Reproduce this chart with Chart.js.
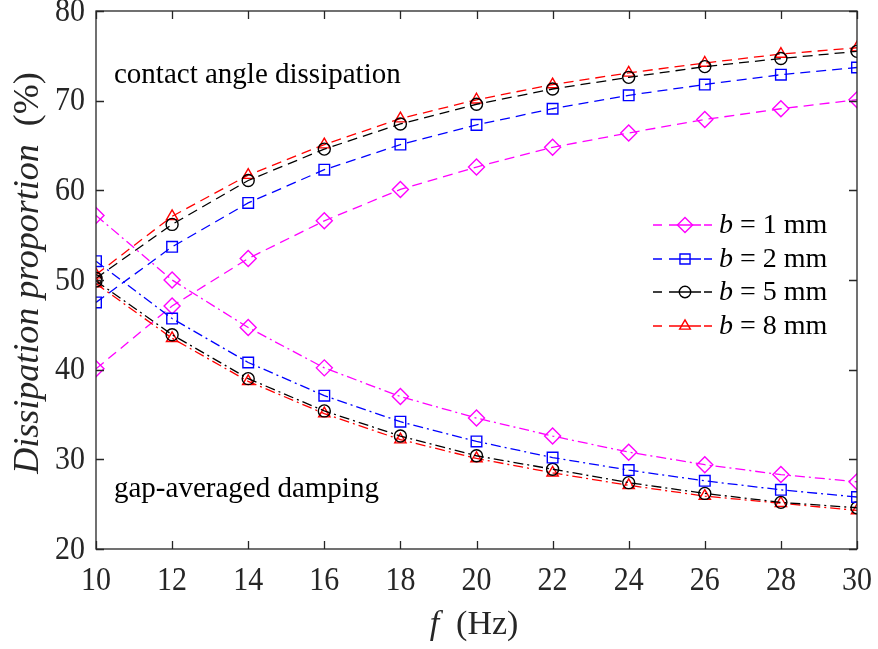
<!DOCTYPE html>
<html>
<head>
<meta charset="utf-8">
<script src="https://cdn.jsdelivr.net/npm/chart.js@4.4.1/dist/chart.umd.min.js"></script>
<style>
  html, body { margin: 0; padding: 0; background: #fff; }
  #wrap { width: 878px; height: 649px; position: relative; }
</style>
</head>
<body>
<div id="wrap"><canvas id="c" width="878" height="649"></canvas></div>
<script>
// Frequency f (Hz)
const freq = [10, 12, 14, 16, 18, 20, 22, 24, 26, 28, 30];

// Contact angle dissipation (%) for each gap width b
const contactB1 = [40.1, 47.1, 52.4, 56.6, 60.1, 62.6, 64.8, 66.4, 67.9, 69.1, 70.1];
const contactB2 = [47.5, 53.7, 58.6, 62.3, 65.1, 67.3, 69.1, 70.6, 71.8, 72.9, 73.7];
const contactB5 = [50.2, 56.2, 61.1, 64.6, 67.4, 69.6, 71.3, 72.6, 73.8, 74.7, 75.5];
const contactB8 = [50.6, 57.1, 61.7, 65.1, 68.0, 70.1, 71.8, 73.1, 74.2, 75.2, 75.9];

// Gap-averaged damping (%) for each gap width b
const gapB1 = [57.2, 50.0, 44.7, 40.2, 37.0, 34.6, 32.6, 30.8, 29.4, 28.3, 27.5];
const gapB2 = [52.1, 45.7, 40.8, 37.1, 34.2, 32.0, 30.2, 28.8, 27.6, 26.6, 25.8];
const gapB5 = [49.9, 43.9, 39.0, 35.4, 32.6, 30.4, 28.9, 27.4, 26.2, 25.2, 24.6];
const gapB8 = [49.6, 43.5, 38.7, 35.1, 32.2, 30.1, 28.5, 27.1, 25.9, 25.1, 24.3];

// Axis ticks
const xTicks = [10, 12, 14, 16, 18, 20, 22, 24, 26, 28, 30];
const yTicks = [20, 30, 40, 50, 60, 70, 80];

// Legend labels
const legendValues = ['1', '2', '5', '8'];

const SERIF = "'Liberation Serif', 'Times New Roman', serif";
const AXIS_COLOR = '#262626';
const DASH = [10, 6];
const DASH_DOT = [10, 4, 2, 4];

const styles = [
  { color: '#FF00FF', point: 'rectRot', r: 8 },
  { color: '#0000FF', point: 'rect', r: 7.5 },
  { color: '#000000', point: 'circle', r: 6 },
  { color: '#FF0000', point: 'triangle', r: 6.5 }
];

function toXY(ys) { return freq.map((x, i) => ({ x: x, y: ys[i] })); }

function makeSet(label, ys, st, dash) {
  return {
    label: label,
    data: toXY(ys),
    borderColor: st.color,
    backgroundColor: 'rgba(0,0,0,0)',
    borderWidth: 1.3,
    borderDash: dash,
    pointStyle: st.point,
    pointRadius: st.r,
    pointHoverRadius: st.r,
    pointBorderColor: st.color,
    pointBackgroundColor: 'rgba(0,0,0,0)',
    pointBorderWidth: 1.4,
    tension: 0,
    fill: false
  };
}

const contactSets = [contactB1, contactB2, contactB5, contactB8];
const gapSets = [gapB1, gapB2, gapB5, gapB8];
const datasets = [];
gapSets.forEach((ys, i) => datasets.push(makeSet('gap b=' + legendValues[i], ys, styles[i], DASH_DOT)));
contactSets.forEach((ys, i) => datasets.push(makeSet('contact b=' + legendValues[i], ys, styles[i], DASH)));

// Text drawn slightly taller than wide, like the tick numerals
function tallText(ctx, text, x, y, align, stretch) {
  ctx.save();
  ctx.translate(x, y);
  ctx.scale(1, stretch);
  ctx.textAlign = align;
  ctx.textBaseline = 'middle';
  ctx.fillText(text, 0, 0);
  ctx.restore();
}

// Box, inward ticks, tick labels, text labels and legend
const decorations = {
  id: 'decorations',
  afterDraw(chart) {
    const ctx = chart.ctx;
    const a = chart.chartArea;
    const xs = chart.scales.x, ys = chart.scales.y;
    ctx.save();
    ctx.strokeStyle = AXIS_COLOR;
    ctx.lineWidth = 1.3;
    ctx.setLineDash([]);
    ctx.strokeRect(a.left, a.top, a.right - a.left, a.bottom - a.top);
    const tl = 8;
    ctx.beginPath();
    xTicks.forEach(v => {
      const px = Math.round(xs.getPixelForValue(v)) + 0.5;
      ctx.moveTo(px, a.bottom); ctx.lineTo(px, a.bottom - tl);
      ctx.moveTo(px, a.top); ctx.lineTo(px, a.top + tl);
    });
    yTicks.forEach(v => {
      const py = Math.round(ys.getPixelForValue(v)) + 0.5;
      ctx.moveTo(a.left, py); ctx.lineTo(a.left + tl, py);
      ctx.moveTo(a.right, py); ctx.lineTo(a.right - tl, py);
    });
    ctx.stroke();

    // Tick labels
    ctx.fillStyle = AXIS_COLOR;
    ctx.font = '30px ' + SERIF;
    xTicks.forEach(v => tallText(ctx, String(v), xs.getPixelForValue(v), a.bottom + 32, 'center', 1.12));
    yTicks.forEach(v => tallText(ctx, String(v), a.left - 11, ys.getPixelForValue(v) + 1, 'right', 1.12));

    // Region labels
    ctx.fillStyle = '#000';
    ctx.font = '29px ' + SERIF;
    ctx.textBaseline = 'alphabetic';
    ctx.textAlign = 'left';
    ctx.fillText('contact angle dissipation', 114, 83);
    ctx.fillText('gap-averaged damping', 114, 497);

    // Axis titles
    ctx.fillStyle = AXIS_COLOR;
    ctx.font = 'italic 34px ' + SERIF;
    const fW = ctx.measureText('f').width;
    ctx.font = '34px ' + SERIF;
    const hzW = ctx.measureText('  (Hz)').width;
    let x0 = 474 - (fW + hzW) / 2;
    ctx.font = 'italic 34px ' + SERIF;
    ctx.fillText('f', x0, 634);
    ctx.font = '34px ' + SERIF;
    ctx.fillText('  (Hz)', x0 + fW, 634);

    ctx.save();
    ctx.translate(38, 273);
    ctx.rotate(-Math.PI / 2);
    ctx.font = 'italic 36px ' + SERIF;
    const t1 = 'Dissipation proportion';
    const w1 = ctx.measureText(t1).width;
    ctx.font = '36px ' + SERIF;
    const t2 = '  (%)';
    const w2 = ctx.measureText(t2).width;
    const sx = -(w1 + w2) / 2;
    ctx.font = 'italic 36px ' + SERIF;
    ctx.fillText(t1, sx, 0);
    ctx.font = '36px ' + SERIF;
    ctx.fillText(t2, sx + w1, 0);
    ctx.restore();

    // Legend
    const rows = [225, 259, 292, 326];
    const mx = 685;
    rows.forEach((yy, i) => {
      const st = styles[i];
      ctx.strokeStyle = st.color;
      ctx.lineWidth = 1.3;
      ctx.setLineDash([]);
      ctx.beginPath();
      ctx.moveTo(653, yy); ctx.lineTo(662, yy);
      ctx.moveTo(669, yy); ctx.lineTo(701, yy);
      ctx.moveTo(704, yy); ctx.lineTo(712, yy);
      ctx.stroke();
      ctx.lineWidth = 1.4;
      ctx.beginPath();
      const r = st.r * 0.95;
      if (st.point === 'rectRot') {
        ctx.moveTo(mx, yy - r); ctx.lineTo(mx + r, yy); ctx.lineTo(mx, yy + r); ctx.lineTo(mx - r, yy); ctx.closePath();
      } else if (st.point === 'rect') {
        const h = r * Math.SQRT1_2;
        ctx.rect(mx - h, yy - h, 2 * h, 2 * h);
      } else if (st.point === 'circle') {
        ctx.arc(mx, yy, r, 0, Math.PI * 2);
      } else {
        ctx.moveTo(mx, yy - r);
        ctx.lineTo(mx + r * 0.866, yy + r * 0.5);
        ctx.lineTo(mx - r * 0.866, yy + r * 0.5);
        ctx.closePath();
      }
      ctx.stroke();

      ctx.fillStyle = '#000';
      ctx.textBaseline = 'middle';
      ctx.textAlign = 'left';
      ctx.font = 'italic 28px ' + SERIF;
      ctx.fillText('b', 719, yy + 1);
      const bw = ctx.measureText('b').width;
      ctx.font = '28px ' + SERIF;
      ctx.fillText(' = ' + legendValues[i] + ' mm', 719 + bw, yy + 1);
    });
    ctx.restore();
  }
};

new Chart(document.getElementById('c'), {
  type: 'line',
  data: { datasets: datasets },
  options: {
    responsive: false,
    animation: false,
    devicePixelRatio: 1,
    layout: { padding: { top: 11, right: 21, left: 0, bottom: 0 } },
    plugins: { legend: { display: false }, tooltip: { enabled: false } },
    scales: {
      x: {
        type: 'linear',
        min: 10, max: 30,
        grid: { display: false, drawTicks: false },
        border: { display: false },
        afterBuildTicks: s => { s.ticks = xTicks.map(v => ({ value: v })); },
        ticks: { display: false },
        afterFit: s => { s.height = 100; s.paddingLeft = 0; s.paddingRight = 0; }
      },
      y: {
        type: 'linear',
        min: 20, max: 80,
        grid: { display: false, drawTicks: false },
        border: { display: false },
        afterBuildTicks: s => { s.ticks = yTicks.map(v => ({ value: v })); },
        ticks: { display: false },
        afterFit: s => { s.width = 96; s.paddingTop = 0; s.paddingBottom = 0; }
      }
    }
  },
  plugins: [decorations]
});
</script>
</body>
</html>
